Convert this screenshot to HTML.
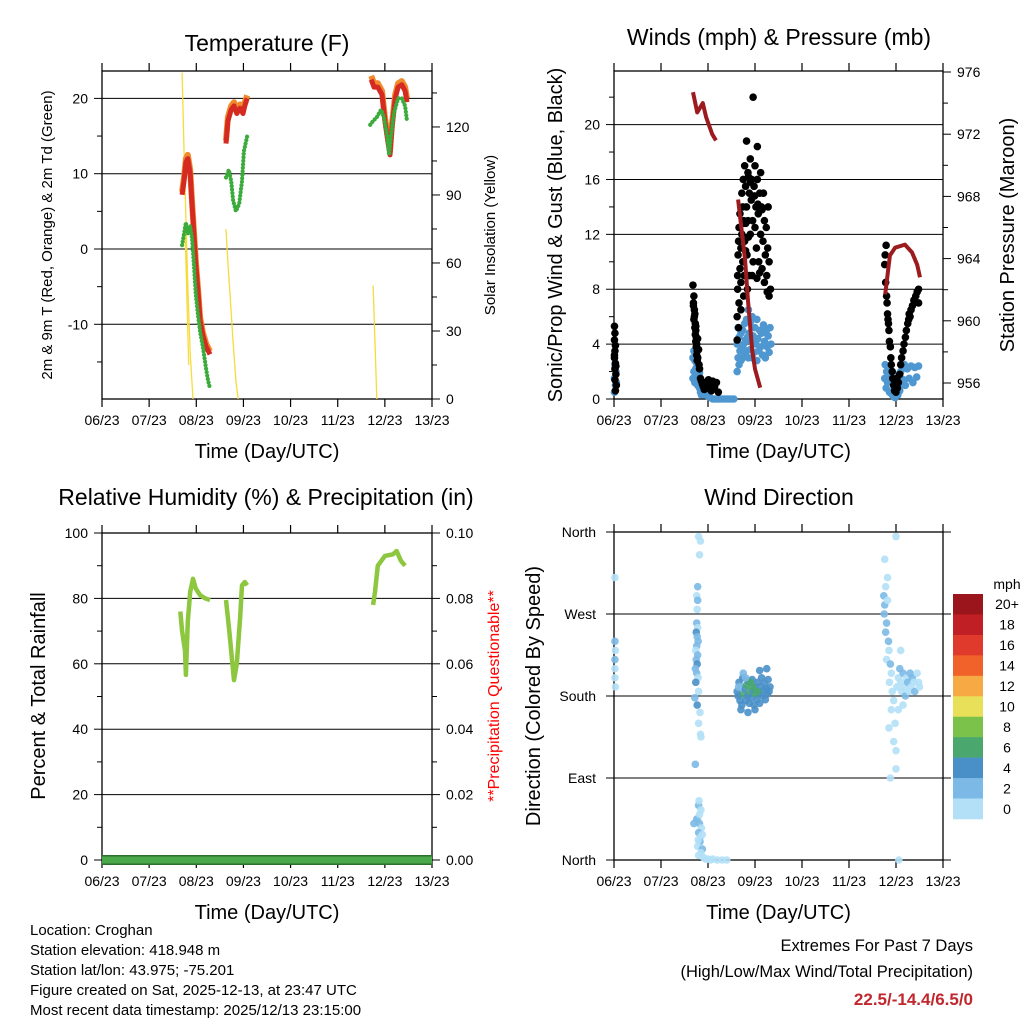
<!DOCTYPE html>
<html><head><meta charset="utf-8"><style>
html,body{margin:0;padding:0;background:#fff;}
svg{display:block;font-family:"Liberation Sans",Arial,sans-serif;}
</style></head><body>
<svg id="chart" width="1024" height="1024" viewBox="0 0 1024 1024" xmlns="http://www.w3.org/2000/svg"></svg>
<script>
// ---------- DATA ----------
const dayTicks = ["06/23","07/23","08/23","09/23","10/23","11/23","12/23","13/23"];
const redDays = [1.70,1.74,1.78,1.82,1.87,1.91,1.95,1.99,2.04,2.08,2.14,2.21,2.29,null,2.63,2.67,2.74,2.80,2.86,2.93,2.99,3.03,3.08,null,5.71,5.77,5.85,5.94,6.00,6.07,6.11,6.15,6.22,6.28,6.36,6.43,6.47];
const redVals = [7.2,9,11.5,12,10,6,2,-2,-6,-9.5,-11.5,-13,-14,null,14,17,18.5,19,18,18.7,18,19,20,null,22.5,21.5,21.5,20.5,17,14,12.5,16,20,21.5,21.8,21,19.5];
const orangeVals = [7.6,9.5,12,12.5,10.5,6.4,2.4,-1.6,-5.6,-9.1,-11.1,-12.6,-13.6,null,14.4,17.5,19,19.5,18.5,19.2,18.5,19.5,20.4,null,23,22,22,21,17.5,14.5,13,16.5,20.5,22,22.3,21.5,20];
const dewDays = [1.70,1.74,1.78,1.82,1.87,1.91,1.95,1.99,2.04,2.08,2.14,2.21,2.25,2.29,null,2.63,2.69,2.74,2.78,2.84,2.91,2.97,3.01,3.08,null,5.69,5.75,5.83,5.92,5.98,6.05,6.09,6.13,6.19,6.28,6.36,6.43,6.47];
const dewVals = [0.5,2,3.5,2,3,1.5,-2,-6,-9,-11,-13,-16,-17.5,-18.5,null,9.5,10.5,9,6.5,5,6,9,13,15,null,16.5,17,17.5,18.5,17.5,15,12.5,15,18,20,20,19,17];
const solarDays = [1.70,1.74,1.78,1.82,1.87,1.93,null,1.76,1.80,1.84,null,2.63,2.67,2.72,2.78,2.84,2.89,null,5.75,5.79,5.83];
const solarVals = [144,110,80,50,20,0,null,75,45,15,null,75,60,45,25,8,0,null,50,25,0];
const presDays = [1.68,1.77,1.83,1.89,1.96,2.02,2.09,2.17,null,2.64,2.79,2.85,2.94,3.00,3.11,null,5.77,5.87,5.98,6.19,6.34,6.45,6.51];
const presVals = [974.7,973.4,973.7,974.0,973.1,972.6,972.0,971.6,null,967.8,963.9,961.3,958.1,956.9,955.7,null,961.7,964.2,964.7,964.9,964.4,963.6,962.8];
const gustDays = [0.01,0.02,0.01,0.03,0.02,0.01,0.03,0.02,0.04,0.02,0.05,0.03,0.01,0.04,
1.68,1.70,1.69,1.71,1.72,1.70,1.73,1.72,1.74,1.73,1.75,1.74,1.76,1.75,1.77,1.76,1.78,1.77,1.69,1.71,1.74,1.78,1.80,1.81,1.82,
1.84,1.86,1.88,1.90,1.92,1.95,1.98,2.01,2.04,2.07,2.10,2.14,2.18,2.22,
2.62,2.62,2.63,2.63,2.64,2.65,2.66,2.66,2.68,2.68,2.70,2.70,2.72,2.72,2.74,2.74,2.75,2.76,2.77,2.78,2.78,2.80,2.80,2.82,2.82,2.83,2.85,2.85,2.86,2.88,2.88,2.90,2.90,2.92,2.93,2.95,2.96,2.96,2.98,3.00,3.00,3.02,3.03,3.05,3.05,3.07,3.08,3.10,3.12,3.12,3.14,3.15,3.17,3.18,3.20,3.20,3.22,3.24,3.25,3.27,3.28,3.30,3.30,3.33,2.65,2.70,2.76,2.84,2.94,3.04,3.10,3.26,2.90,2.99,3.06,2.86,2.80,3.15,2.74,
5.76,5.77,5.78,5.80,5.81,5.82,5.84,5.85,5.86,5.88,5.89,5.90,5.92,5.93,5.95,5.97,6.00,6.03,6.05,6.08,6.10,6.12,6.15,6.17,6.20,6.22,6.25,6.27,6.30,6.32,6.35,6.38,6.42,6.45,6.48,6.48,5.79,5.83,6.02,6.28];
const gustVals = [5.3,4.8,4.3,3.9,3.5,3,2.6,2.2,1.8,1.4,1,0.6,3.2,2.4,
8.3,7.5,7,6.5,6.2,5.8,5.5,5.2,5,4.7,4.5,4.2,4,3.8,3.5,3.2,3,2.8,6.8,6,5.3,4.4,3.6,2.5,2.2,
1.5,1.3,1.1,0.9,0.7,1.2,0.8,1.4,1,0.6,1.3,0.9,1.2,0.5,
4.3,6,8,9,10.5,11.5,7,12.5,9.5,13.5,8.5,11,15,12,10,14,16,13,9,17,11.5,15.5,12.8,18.8,14,10.5,16.5,13,11.8,15,9,17.5,12,14.5,16,13,22,10,15.5,17,12.5,14,11,16,18.4,13.5,10,15,12,16.5,14,9.5,11.5,15,13,8.5,10.5,12.5,9,11,14,10,7.5,8,5.2,6.5,7.5,8,9,8.8,9.2,7.8,15.8,14.8,14.2,16.2,10.8,13.8,12.8,
9.8,10.5,8.5,7.5,7,6.2,5.5,5,4.2,3.8,3,2.5,2,1.5,1,0.6,0.5,0.8,1.2,1.8,2.5,3,3.5,4,4.5,5,5.5,5.8,6,6.5,6.8,7.2,7.5,7.8,8,7,11.2,5.8,1.5,6.2];
const windDays = [0.01,0.01,0.02,0.03,0.04,0.05,
1.68,1.68,1.70,1.70,1.72,1.72,1.74,1.74,1.76,1.76,1.78,1.78,1.80,1.80,1.82,1.82,1.84,1.84,1.86,1.88,1.90,1.95,2.00,2.05,
2.10,2.15,2.20,2.25,2.30,2.35,2.40,2.45,2.50,2.55,
2.62,2.62,2.64,2.64,2.66,2.66,2.68,2.70,2.70,2.72,2.74,2.74,2.76,2.78,2.78,2.80,2.82,2.82,2.84,2.86,2.86,2.88,2.90,2.90,2.92,2.94,2.94,2.96,2.98,3.00,3.02,3.04,3.04,3.06,3.08,3.10,3.12,3.14,3.16,3.18,3.20,3.22,3.24,3.26,3.28,3.30,3.32,3.34,
5.76,5.77,5.79,5.80,5.82,5.84,5.86,5.88,5.90,5.92,5.94,5.96,5.98,6.00,6.02,6.04,6.06,6.08,6.10,6.12,6.14,6.16,6.18,6.20,6.24,6.28,6.32,6.36,6.40,6.44,6.48];
const windVals = [0.5,1.5,2.5,1,2,1.2,
1.5,3,2,3.5,1.2,2.8,2.2,3.3,1.8,2.6,1,3,1.5,2.4,0.8,1.9,0.5,1.4,0.3,0.8,0.4,0.3,0.2,0.1,
0,0,0,0,0,0,0,0,0,0,
2,4,3,5.2,2.5,4.5,3.5,2.8,4.8,3.8,3,5,4,3.2,5.5,4.3,3.5,5.8,4.5,3,6.5,4.8,3.6,5.6,4.2,3,6,4.6,3.4,5.2,4,2.8,5.8,4.4,3.5,5,3.8,4.8,3.2,5.4,4.2,3,5,3.8,4.6,3.4,5.2,4,
1.5,2.5,0.8,2,1.2,2.3,0.5,1.6,0.4,1.2,0.2,0.8,0.1,0.6,1.2,0.3,1.8,0.6,2,1,2.3,1.4,2.5,1,2.2,1.5,2.4,1.2,2.3,1.6,2.4];
const rhDays = [1.66,1.70,1.76,1.78,1.82,1.87,1.93,1.99,2.08,2.19,2.29,null,2.63,2.70,2.76,2.80,2.86,2.93,2.97,3.03,3.08,null,5.75,5.79,5.85,6.00,6.17,6.25,6.34,6.43];
const rhVals = [76,70,64,56.6,73,82,86,83,81,80,79.5,null,79.5,70,61,55,60,74,84,85,84,null,78,82,90,93,93.5,94.5,91.5,90];
const rainDays = [0,7];
const rainVals = [0,0];
const dirDays = [0.02,0.02,0.02,0.03,0.02,0.03,0.02,
1.8,1.84,1.82,1.78,1.76,1.78,1.77,1.76,1.78,1.75,1.77,1.79,1.76,1.74,1.78,1.75,1.77,1.73,1.76,1.79,1.74,1.80,1.72,1.77,1.83,1.80,1.73,1.85,1.84,
1.80,1.85,1.78,1.82,1.86,1.80,1.84,1.83,1.78,1.88,1.85,1.80,1.76,1.82,1.70,1.79,1.90,1.95,2.0,2.05,2.1,2.2,2.3,2.4,1.88,1.81,
2.62,2.64,2.66,2.68,2.70,2.72,2.74,2.76,2.78,2.80,2.82,2.84,2.86,2.88,2.90,2.92,2.94,2.96,2.98,3.00,3.02,3.04,3.06,3.08,3.10,3.12,3.14,3.16,3.18,3.20,3.22,3.24,3.26,3.28,3.30,3.32,2.7,2.85,3.0,2.75,3.1,3.25,2.95,2.9,3.05,2.65,2.8,
5.74,5.76,5.78,5.75,5.80,5.78,5.82,5.84,5.85,5.80,5.88,5.90,5.86,5.92,5.95,5.90,5.98,5.85,6.0,5.88,6.02,6.05,6.08,6.10,6.12,6.15,6.18,6.20,6.22,6.25,6.28,6.30,6.32,6.35,6.38,6.40,6.45,6.48,6.5,6.1,6.0,5.95,6.05,6.15,6.0,6.06,5.82,5.76];
const dirVals = [200,210,220,230,240,190,310,
355,350,335,300,290,285,275,260,255,250,245,240,235,230,225,220,215,210,205,200,195,185,178,170,162,150,105,135,138,
60,55,45,40,35,30,25,20,15,12,8,5,45,50,40,22,3,1,1,0,1,0,0,0,28,65,
185,180,195,175,190,170,200,182,188,175,192,180,196,172,185,178,198,186,170,190,182,176,195,184,172,190,200,180,186,194,176,188,182,198,185,190,165,162,165,205,208,210,190,195,185,190,200,
290,280,300,270,260,250,285,240,230,220,215,205,195,185,175,165,150,145,100,90,190,200,210,195,185,205,190,180,200,195,185,205,190,200,195,185,205,195,190,230,120,130,165,170,355,0,310,330];
const dirSpeed = [1,0,2,0,2,0,0,
0,0,0,2,0,2,0,2,0,4,2,2,2,0,2,2,4,2,2,0,4,0,2,4,0,0,2,0,0,
2,0,0,2,0,2,0,2,0,2,0,0,2,0,2,0,0,0,0,0,0,0,0,0,0,0,
4,4,4,4,2,4,4,6,4,4,6,4,4,4,6,4,4,4,4,4,6,4,4,4,4,4,4,4,4,4,4,4,4,4,4,4,4,4,4,2,4,4,6,6,6,2,2,
2,2,0,2,2,2,0,2,0,0,2,0,0,0,0,0,0,0,0,0,0,0,2,0,0,2,0,2,0,2,0,2,0,2,0,2,0,0,0,0,0,0,0,0,0,0,0,0];
const legendLabels = ["20+","18","16","14","12","10","8","6","4","2","0"];
const legendColors = ["#9a151c","#c01f26","#e03a2c","#f0622a","#f7a944","#e8e058","#7bc24a","#4aa86e","#4a90c8","#7cb9e6","#b3e0f7"];

// ---------- HELPERS ----------
const NS = "http://www.w3.org/2000/svg";
const svg = document.getElementById("chart");
function el(tag, attrs, parent) {
  const e = document.createElementNS(NS, tag);
  for (const k in attrs) e.setAttribute(k, attrs[k]);
  (parent || svg).appendChild(e);
  return e;
}
function txt(s, x, y, size, anchor, name, extra) {
  const t = el("text", Object.assign({x: x, y: y, "font-size": size, "text-anchor": anchor || "middle", fill: "#000"}, extra || {}));
  t.textContent = s;
  
  
  return t;
}
function vtxt(s, x, y, size, name, fill) {
  const t = el("text", {x: 0, y: 0, "font-size": size, "text-anchor": "middle", fill: fill || "#000", transform: "translate(" + x + "," + y + ") rotate(-90)"});
  t.textContent = s;
  
  
  return t;
}
function pathFrom(days, vals, xf, yf) {
  let d = "", pen = false;
  for (let i = 0; i < days.length; i++) {
    if (days[i] === null || vals[i] === null) { pen = false; continue; }
    d += (pen ? "L" : "M") + xf(days[i]).toFixed(1) + "," + yf(vals[i]).toFixed(1);
    pen = true;
  }
  return d;
}
function frame(L, R, T, B, name) {
  const g = el("g", {});
  
  
  el("rect", {x: L, y: T, width: R - L, height: B - T, fill: "none", stroke: "#000", "stroke-width": 1.3}, g);
  return g;
}
function xAxis(L, R, T, B, g, prefix) {
  const step = (R - L) / 7;
  for (let i = 0; i < dayTicks.length; i++) {
    const x = L + i * step;
    el("line", {x1: x, y1: B, x2: x, y2: B + 8, stroke: "#000", "stroke-width": 1.2}, g);
    el("line", {x1: x, y1: T, x2: x, y2: T - 8, stroke: "#000", "stroke-width": 1.2}, g);
    txt(dayTicks[i], x, B + 26, 14, "middle", prefix + "-x-tick-label");
  }
  txt("Time (Day/UTC)", (L + R) / 2, B + 59, 20, "middle", prefix + "-x-axis-title");
}
function color(s) {
  const idx = Math.min(10, Math.floor(s / 2));
  return legendColors[10 - idx];
}

// ---------- PANEL 1: TEMPERATURE ----------
(function () {
  const L = 102, R = 432, T = 71, B = 399;
  const x = d => L + d * (R - L) / 7;
  const y = v => 249 - v * 7.53;
  const ys = s => B - s * 2.267;
  const g = frame(L, R, T, B, "temperature-plot");
  [20, 10, 0, -10].forEach(v => {
    el("line", {x1: L, y1: y(v), x2: R, y2: y(v), stroke: "#000", "stroke-width": 1}, g);
    txt(String(v), L - 14, y(v) + 5, 14, "end", "temp-y-tick-label");
  });
  [20, 15, 10, 5, 0, -5, -10, -15].forEach(v => {
    el("line", {x1: L - (v % 10 === 0 ? 8 : 5), y1: y(v), x2: L, y2: y(v), stroke: "#000"}, g);
  });
  [0, 15, 30, 45, 60, 75, 90, 105, 120, 135].forEach(s => {
    el("line", {x1: R, y1: ys(s), x2: R + (s % 30 === 0 ? 8 : 5), y2: ys(s), stroke: "#000"}, g);
    if (s % 30 === 0) txt(String(s), R + 14, ys(s) + 5, 14, "start", "solar-y-tick-label");
  });
  xAxis(L, R, T, B, g, "temp");
  txt("Temperature (F)", 267, 51, 23, "middle", "temperature-title");
  vtxt("2m & 9m T (Red, Orange) & 2m Td (Green)", 52, 235, 15, "temp-y-axis-title");
  vtxt("Solar Insolation (Yellow)", 495, 235, 15, "solar-y-axis-title");
  const sol = el("path", {d: pathFrom(solarDays, solarVals, x, ys), fill: "none", stroke: "#f5dc3c", "stroke-width": 1.3});
  
  
  const o = el("path", {d: pathFrom(redDays, orangeVals, x, y), fill: "none", stroke: "#f08a2c", "stroke-width": 6, "stroke-linejoin": "round"});
  
  
  const r = el("path", {d: pathFrom(redDays, redVals, x, y), fill: "none", stroke: "#d42a22", "stroke-width": 5, "stroke-linejoin": "round"});
  
  
  const gr = el("path", {d: pathFrom(dewDays, dewVals, x, y), fill: "none", stroke: "#3bab3b", "stroke-width": 4.2, "stroke-dasharray": "0.1 3.4", "stroke-linecap": "round"});
  
  
})();

// ---------- PANEL 2: WINDS & PRESSURE ----------
(function () {
  const L = 614, R = 943, T = 71, B = 399;
  const x = d => L + d * (R - L) / 7;
  const y = v => B - v * 13.72;
  const yp = p => 383 - (p - 956) * 15.55;
  const g = frame(L, R, T, B, "winds-plot");
  [0, 4, 8, 12, 16, 20].forEach(v => {
    if (v > 0) el("line", {x1: L, y1: y(v), x2: R, y2: y(v), stroke: "#000", "stroke-width": 1}, g);
    txt(String(v), L - 14, y(v) + 5, 14, "end", "wind-y-tick-label");
  });
  for (let v = 0; v <= 22; v += 2) el("line", {x1: L - (v % 4 === 0 ? 8 : 5), y1: y(v), x2: L, y2: y(v), stroke: "#000"}, g);
  for (let p = 956; p <= 976; p += 2) {
    el("line", {x1: R, y1: yp(p), x2: R + (p % 4 === 0 ? 8 : 5), y2: yp(p), stroke: "#000"}, g);
    if (p % 4 === 0) txt(String(p), R + 14, yp(p) + 5, 14, "start", "pressure-y-tick-label");
  }
  xAxis(L, R, T, B, g, "wind");
  txt("Winds (mph) & Pressure (mb)", 779, 45, 23, "middle", "winds-title");
  vtxt("Sonic/Prop Wind & Gust (Blue, Black)", 562, 235, 20, "wind-y-axis-title");
  vtxt("Station Pressure (Maroon)", 1014, 235, 20, "pressure-y-axis-title");
  for (let i = 0; i < windDays.length; i++) {
    const c = el("circle", {cx: x(windDays[i]), cy: y(windVals[i]), r: 3.8, fill: "#4e97d1"});
    
    
  }
  for (let i = 0; i < gustDays.length; i++) {
    const c = el("circle", {cx: x(gustDays[i]), cy: y(gustVals[i]), r: 3.8, fill: "#000"});
    
    
  }
  const p = el("path", {d: pathFrom(presDays, presVals, x, yp), fill: "none", stroke: "#9b1b1f", "stroke-width": 4, "stroke-linejoin": "round"});
  
  
})();

// ---------- PANEL 3: RH & PRECIP ----------
(function () {
  const L = 102, R = 432, T = 533, B = 860;
  const x = d => L + d * (R - L) / 7;
  const y = v => B - v * 3.27;
  const yr = v => B - v * 3270;
  const g = frame(L, R, T, B, "humidity-plot");
  [0, 20, 40, 60, 80, 100].forEach(v => {
    if (v > 0 && v < 100) el("line", {x1: L, y1: y(v), x2: R, y2: y(v), stroke: "#000", "stroke-width": 1}, g);
    el("line", {x1: L - 8, y1: y(v), x2: L, y2: y(v), stroke: "#000"}, g);
    el("line", {x1: R, y1: y(v), x2: R + 8, y2: y(v), stroke: "#000"}, g);
    txt(String(v), L - 14, y(v) + 5, 14, "end", "rh-y-tick-label");
    txt((v / 1000).toFixed(2), R + 14, y(v) + 5, 14, "start", "rain-y-tick-label");
  });
  for (let v = 10; v < 100; v += 20) {
    el("line", {x1: L - 5, y1: y(v), x2: L, y2: y(v), stroke: "#000"}, g);
    el("line", {x1: R, y1: y(v), x2: R + 5, y2: y(v), stroke: "#000"}, g);
  }
  xAxis(L, R, T, B, g, "rh");
  txt("Relative Humidity (%) & Precipitation (in)", 266, 505, 23, "middle", "humidity-title");
  vtxt("Percent & Total Rainfall", 45, 696, 20, "rh-y-axis-title");
  vtxt("**Precipitation Questionable**", 499, 696, 16, "precip-questionable-label", "#ff0000");
  const rb = el("path", {d: pathFrom(rainDays, rainVals, x, yr), fill: "none", stroke: "#2e6e2e", "stroke-width": 10});
  
  
  const rn = el("path", {d: pathFrom(rainDays, rainVals, x, yr), fill: "none", stroke: "#49a84a", "stroke-width": 7});
  
  
  const rh = el("path", {d: pathFrom(rhDays, rhVals, x, y), fill: "none", stroke: "#8dc63f", "stroke-width": 4.5, "stroke-linejoin": "round"});
  
  
})();

// ---------- PANEL 4: WIND DIRECTION ----------
(function () {
  const L = 614, R = 943, T = 532, B = 860;
  const x = d => L + d * (R - L) / 7;
  const y = deg => B - deg * (B - T) / 360;
  const g = frame(L, R, T, B, "wind-direction-plot");
  const names = ["North", "East", "South", "West", "North"];
  [0, 90, 180, 270, 360].forEach((deg, i) => {
    if (deg > 0 && deg < 360) el("line", {x1: L, y1: y(deg), x2: R, y2: y(deg), stroke: "#000", "stroke-width": 1}, g);
    el("line", {x1: L - 8, y1: y(deg), x2: L, y2: y(deg), stroke: "#000"}, g);
    el("line", {x1: R, y1: y(deg), x2: R + 8, y2: y(deg), stroke: "#000"}, g);
    txt(names[i], L - 18, y(deg) + 5, 14, "end", "direction-y-tick-label");
  });
  xAxis(L, R, T, B, g, "dir");
  txt("Wind Direction", 779, 505, 23, "middle", "wind-direction-title");
  vtxt("Direction (Colored By Speed)", 540, 696, 20, "direction-y-axis-title");
  for (let i = 0; i < dirDays.length; i++) {
    const c = el("circle", {cx: x(dirDays[i]), cy: y(dirVals[i]), r: 3.8, fill: color(dirSpeed[i]), "fill-opacity": 0.9});
    
    
  }
  const lg = el("g", {});
  
  
  txt("mph", 1007, 589, 14, "middle", "legend-title");
  const h = 225 / legendLabels.length;
  for (let i = 0; i < legendLabels.length; i++) {
    const r = el("rect", {x: 953, y: 594 + i * h, width: 30, height: h + 0.3, fill: legendColors[i]}, lg);
    
    
    txt(legendLabels[i], 1007, 594 + i * h + h / 2 + 5, 14, "middle", "legend-label");
  }
})();

// ---------- FOOTER ----------
const footLeft = ["Location: Croghan", "Station elevation: 418.948 m", "Station lat/lon: 43.975; -75.201", "Figure created on Sat, 2025-12-13, at 23:47 UTC", "Most recent data timestamp: 2025/12/13 23:15:00"];
footLeft.forEach((s, i) => txt(s, 30, 935 + i * 20, 15, "start", "footer-info-line"));
txt("Extremes For Past 7 Days", 973, 951, 16.5, "end", "extremes-heading");
txt("(High/Low/Max Wind/Total Precipitation)", 973, 977, 16.5, "end", "extremes-subheading");
txt("22.5/-14.4/6.5/0", 973, 1005, 17, "end", "extremes-values", {fill: "#c0282d", "font-weight": "bold"});
</script>
</body></html>
